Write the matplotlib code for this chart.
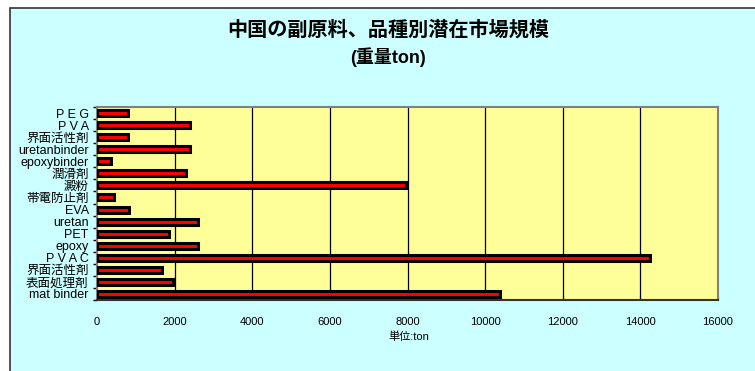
import matplotlib
matplotlib.use("Agg")
import matplotlib.pyplot as plt
from matplotlib.patches import Rectangle
from matplotlib.ticker import MultipleLocator

plt.rcParams['font.family'] = ['Liberation Sans', 'Noto Sans CJK JP', 'DejaVu Sans']

# categories listed top to bottom as in the chart
categories = ["P E G", "P V A", "界面活性剤", "uretanbinder", "epoxybinder",
              "潤滑剤", "澱粉", "帯電防止剤", "EVA", "uretan", "PET", "epoxy",
              "P V A C", "界面活性剤", "表面処理剤", "mat binder"]
values = [800, 2400, 800, 2400, 350, 2300, 7950, 450, 830, 2600, 1850, 2600,
          14250, 1670, 1950, 10380]
x_ticks = [0, 2000, 4000, 6000, 8000, 10000, 12000, 14000, 16000]

fig = plt.figure(figsize=(7.55, 3.71), dpi=100)
fig.patch.set_facecolor("white")

# chart area background with border
fig.patches.append(Rectangle((10 / 755, -0.1), 1.2, 0.1 + 363 / 371,
                             transform=fig.transFigure, facecolor="#CCFFFF",
                             edgecolor="#333333", linewidth=1.2, zorder=-10))

ax = fig.add_axes([97 / 755, 71 / 371, 621 / 755, 193 / 371])
ax.set_facecolor("#FFFF99")

n = len(categories)
ypos = list(range(n - 1, -1, -1))
ax.barh(ypos, values, height=0.5, color="#FF0000", edgecolor="black",
        linewidth=2.2, zorder=3)

ax.set_xlim(0, 16000)
ax.set_ylim(-0.5, n - 0.5)
ax.set_xticks(x_ticks)
ax.set_xticklabels([str(t) for t in x_ticks], fontsize=8)
ax.set_yticks(ypos)
ax.set_yticklabels(categories, fontsize=9)
ax.tick_params(axis="y", length=0, pad=6)
ax.yaxis.set_minor_locator(MultipleLocator(1, offset=0.5))
ax.tick_params(axis="y", which="minor", length=3, width=1, color="black")
ax.tick_params(axis="x", length=3, direction="in", pad=12)

for t in x_ticks[1:-1]:
    ax.axvline(t, color="black", linewidth=0.9, zorder=1)

for side in ["top", "right", "left"]:
    ax.spines[side].set_color("#808080")
    ax.spines[side].set_linewidth(1.5)
ax.spines["bottom"].set_color("#333333")
ax.spines["bottom"].set_linewidth(1.5)

fig.text(388 / 755, 1 - 30 / 371, "中国の副原料、品種別潜在市場規模",
         ha="center", va="center", fontsize=14.5, fontweight="bold")
fig.text(388 / 755, 1 - 57 / 371, "(重量ton)",
         ha="center", va="center", fontsize=13, fontweight="bold")
fig.text(409 / 755, 1 - 337 / 371, "単位:ton", ha="center", va="center",
         fontsize=8)

fig.savefig("out.png", dpi=100)
